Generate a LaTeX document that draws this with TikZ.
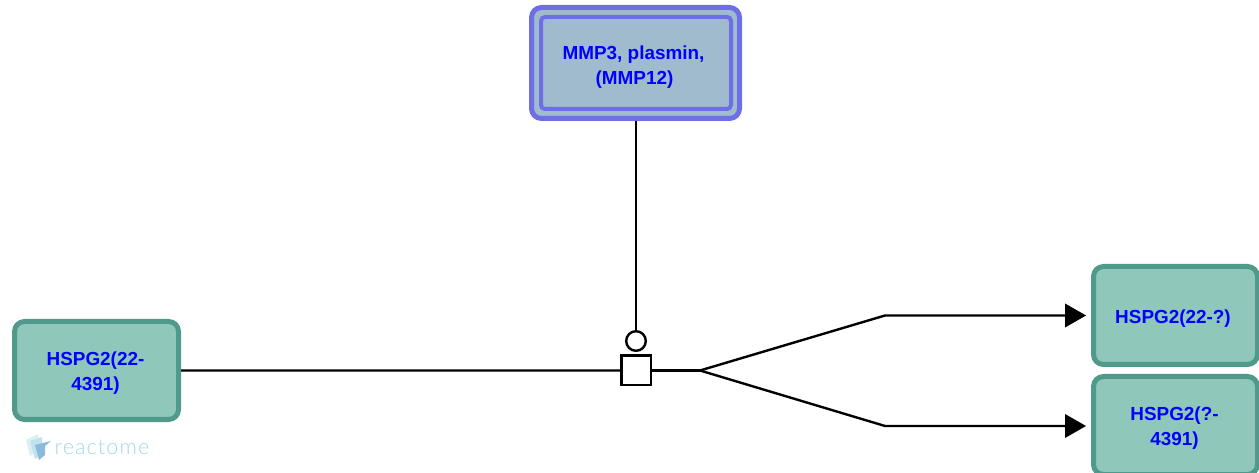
\documentclass[tikz,border=0pt]{standalone}
\usepackage{fontspec}
\setmainfont{Liberation Sans}
\newfontfamily\logofont[LetterSpace=5]{Lato Light}
\usetikzlibrary{arrows.meta,calc}
\definecolor{tealfill}{HTML}{8FC7BB}
\definecolor{tealline}{HTML}{4F9A8A}
\definecolor{cxfill}{HTML}{A0BBCD}
\definecolor{cxline}{HTML}{6E6EE6}
\definecolor{logoc}{HTML}{A4D8E6}
\newcommand{\dropline}{\rule{0pt}{19bp}}
\newcommand{\dropmore}{\rule{0pt}{21bp}}
\tikzset{
  entity/.style={draw=tealline,fill=tealfill,line width=5bp,rounded corners=10bp,align=center,
    text=blue,font=\bfseries\fontsize{18.9bp}{25.5bp}\selectfont,inner sep=0pt,anchor=north west},
  cxouter/.style={draw=cxline,fill=cxfill,line width=5bp,rounded corners=10bp,inner sep=0pt,anchor=north west},
  cxinner/.style={draw=cxline,fill=cxfill,line width=4bp,rounded corners=4bp,align=center,
    text=blue,font=\bfseries\fontsize{18.9bp}{25bp}\selectfont,inner sep=0pt,anchor=north west},
  conn/.style={draw=black,line width=2.4bp},
  arrowconn/.style={conn,-{Triangle[length=21bp,width=24bp,line width=0pt]}},
  reactsq/.style={draw=black,fill=white,line width=2.4bp,minimum size=29.6bp,inner sep=0pt},
  catcirc/.style={draw=black,fill=white,line width=2.4bp,circle,minimum size=19.6bp,inner sep=0pt},
  logotext/.style={text=logoc,font=\logofont\fontsize{21.6bp}{24bp}\selectfont,inner sep=0pt},
}
\begin{document}
\begin{tikzpicture}[x=1bp,y=-1bp]
\useasboundingbox (0,0) rectangle (1259,473);
% entities
\node[entity,minimum width=164bp,minimum height=98bp] (src) at (12,319) {\dropline HSPG2(22-\hspace*{2bp}\\4391)\hspace*{2bp}};
\node[entity,minimum width=164bp,minimum height=98bp] (p1) at (1091,264) {\dropline HSPG2(22-?)\hspace*{5bp}};
\node[entity,minimum width=164bp,minimum height=98bp] (p2) at (1091,374) {\dropline HSPG2(?-\hspace*{2bp}\\4391)\hspace*{2bp}};
\node[cxouter,minimum width=208bp,minimum height=111bp] (cxo) at (529,5) {};
\node[cxinner,minimum width=190bp,minimum height=92bp] (cx) at (539,15) {\dropmore MMP3, plasmin,\hspace*{5bp}\\(MMP12)\hspace*{3bp}};
% process glyph
\node[reactsq] (rx) at (636.3,370.5) {};
\node[catcirc] (cat) at (636,341) {};
\coordinate (fork) at (700,370.5);
\coordinate (b1) at (885,315.5);
\coordinate (b2) at (885,426);
\coordinate (t1) at (1086,315.5);
\coordinate (t2) at (1086,426);
% connectors
\draw[conn] (cat.north |- cxo.south) -- (cat.north);
\draw[conn] (src.east) -- (rx.west);
\draw[conn] (rx.east) -- (fork);
\draw[arrowconn] (fork) -- (b1) -- (t1);
\draw[arrowconn] (fork) -- (b2) -- (t2);
% logo
\fill[logoc!40] (26,440) -- (38,434) -- (38,452) -- (30,456) -- cycle;
\fill[logoc!70] (30,441) -- (42,437) -- (42,455) -- (35,459) -- cycle;
\fill[logoc!90!blue!95!black] (35,445) -- (51,441) -- (45,446) -- (45,455) -- (39,460) -- cycle;
\node[logotext,anchor=west] (logo) at (54.5,447.5) {reactome};
\end{tikzpicture}
\end{document}
